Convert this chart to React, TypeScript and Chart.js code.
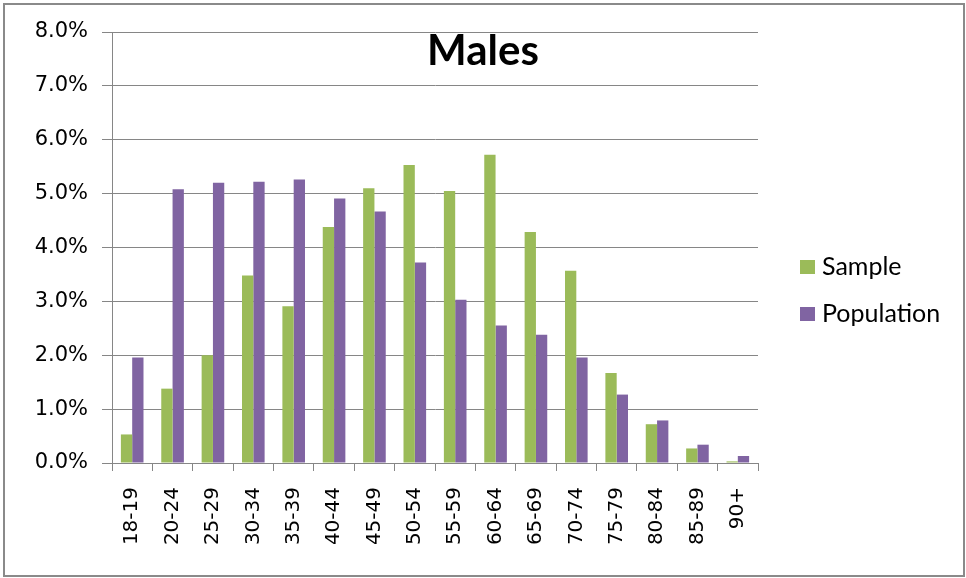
import React, { useEffect, useRef } from "react";
import { Chart, registerables } from "chart.js";

Chart.register(...registerables);

const TITLE = "Males";
const categories = ["18-19", "20-24", "25-29", "30-34", "35-39", "40-44", "45-49", "50-54", "55-59", "60-64", "65-69", "70-74", "75-79", "80-84", "85-89", "90+"];
const sample = [0.53, 1.38, 2.0, 3.48, 2.91, 4.38, 5.1, 5.53, 5.05, 5.72, 4.29, 3.57, 1.67, 0.72, 0.27, 0.03];
const population = [1.96, 5.08, 5.2, 5.22, 5.26, 4.91, 4.67, 3.72, 3.03, 2.55, 2.38, 1.96, 1.27, 0.79, 0.34, 0.13];
const yMin = 0;
const yMax = 8;
const yStep = 1;

const GRID = "#868686";
const GREEN = "#9BBB59";
const PURPLE = "#8064A2";

const titlePlugin = {
  id: "overlayTitle",
  afterDraw(chart: any) {
    const ctx = chart.ctx;
    ctx.save();
    ctx.font = "bold 42px Lato";
    ctx.fillStyle = "#000";
    ctx.textAlign = "center";
    ctx.textBaseline = "alphabetic";
    ctx.fillText(TITLE, chart.width / 2, 65);
    ctx.restore();
  },
};

const legendPlugin = {
  id: "sideLegend",
  afterDraw(chart: any) {
    const ctx = chart.ctx;
    const x = chart.chartArea.right + 42;
    const rowGap = 47;
    const n = chart.data.datasets.length;
    const y0 = chart.height / 2 + 1.5 - ((n - 1) * rowGap) / 2;
    ctx.save();
    chart.data.datasets.forEach((ds: any, i: number) => {
      const cy = y0 + i * rowGap;
      ctx.fillStyle = ds.backgroundColor;
      ctx.fillRect(x, cy - 7, 15, 14);
      ctx.fillStyle = "#000";
      ctx.font = "25px Lato";
      ctx.textAlign = "left";
      ctx.textBaseline = "middle";
      ctx.fillText(ds.label, x + 22, cy);
    });
    ctx.restore();
  },
};

export default function App() {
  const ref = useRef<HTMLCanvasElement | null>(null);
  useEffect(() => {
    if (!ref.current) return;
    const chart = new Chart(ref.current, {
      type: "bar",
      data: {
        labels: categories,
        datasets: [
          { label: "Sample", data: sample, backgroundColor: GREEN, borderWidth: 0 },
          { label: "Population", data: population, backgroundColor: PURPLE, borderWidth: 0 },
        ],
      },
      plugins: [titlePlugin, legendPlugin],
      options: {
        responsive: false,
        animation: false,
        datasets: { bar: { categoryPercentage: 0.56, barPercentage: 1.0 } },
        layout: { padding: { top: 32, right: 208, left: 0, bottom: 0 } },
        plugins: {
          title: { display: false },
          tooltip: { enabled: false },
          legend: { display: false },
        },
        scales: {
          x: {
            grid: { offset: true, drawOnChartArea: false, drawTicks: true, tickLength: 8, color: GRID },
            border: { color: GRID },
            ticks: { minRotation: 90, maxRotation: 90, padding: 16, font: { family: "DejaVu Sans", size: 20 }, color: "#000", autoSkip: false },
            afterFit: (s: any) => {
              s.height = 115;
            },
          },
          y: {
            min: yMin,
            max: yMax,
            ticks: {
              stepSize: yStep,
              padding: 14,
              font: { family: "DejaVu Sans", size: 21 },
              color: "#000",
              callback: (v: any) => Number(v).toFixed(1) + "%",
            },
            grid: { color: GRID, tickLength: 10 },
            border: { color: GRID },
            afterFit: (s: any) => {
              s.width = 112;
            },
          },
        },
      } as any,
    });
    return () => chart.destroy();
  }, []);

  return (
    <div style={{ position: "fixed", left: 0, top: 0, width: 966, height: 578, background: "#fff" }}>
      <div
        style={{
          position: "absolute",
          left: 3,
          top: 3,
          width: 962,
          height: 574,
          boxSizing: "border-box",
          border: "2px solid #8a8a8a",
        }}
      />
      <canvas ref={ref} width={966} height={578} style={{ position: "absolute", left: 0, top: 0 }} />
    </div>
  );
}
